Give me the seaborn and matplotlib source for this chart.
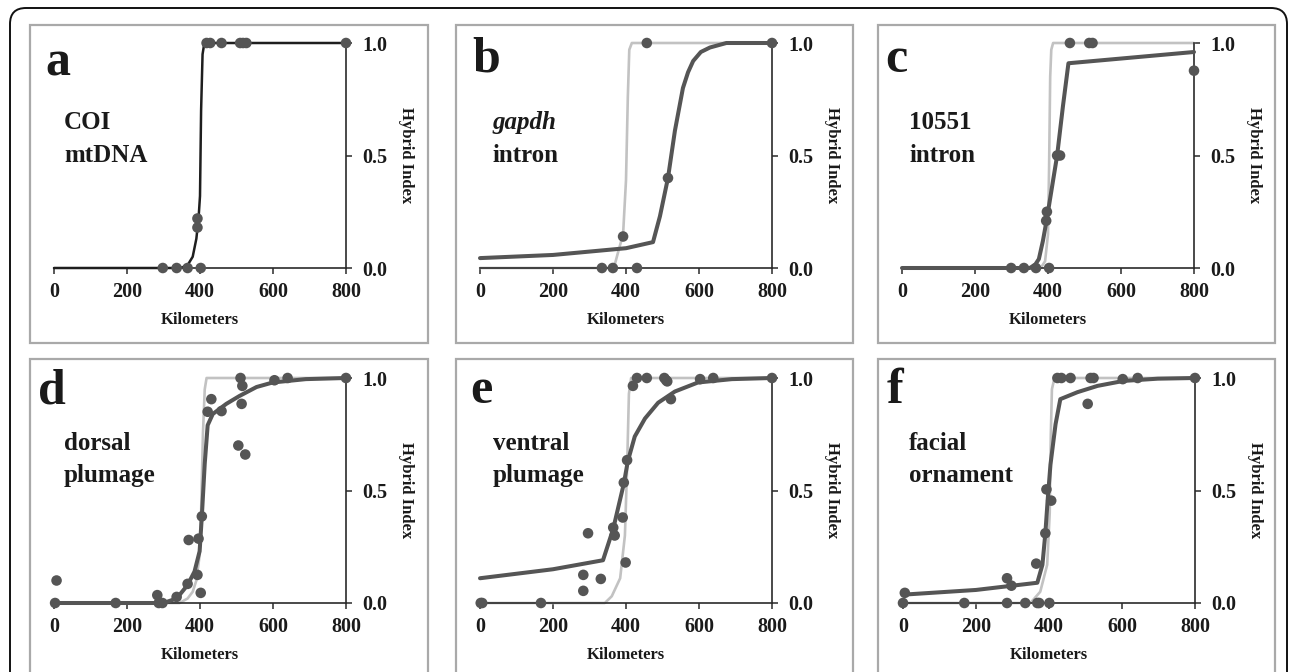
import matplotlib
matplotlib.use("Agg")
import matplotlib.pyplot as plt
from matplotlib.patches import Rectangle, FancyBboxPatch
import seaborn as sns

# ---------------- data ----------------
x_ticks = [0, 200, 400, 600, 800]
y_ticks = [0.0, 0.5, 1.0]
y_tick_labels = ["0.0", "0.5", "1.0"]
panel_letters = ["a", "b", "c", "d", "e", "f"]
panel_titles = [("COI", "mtDNA"), ("gapdh", "intron"), ("10551", "intron"),
                ("dorsal", "plumage"), ("ventral", "plumage"), ("facial", "ornament")]

# panel a: COI mtDNA
a_pts_km = [298, 336, 366, 402, 393, 393, 418, 428, 459, 510, 518, 527, 800]
a_pts_hi = [0, 0, 0, 0, 0.18, 0.22, 1, 1, 1, 1, 1, 1, 1]
a_fit_km = [0, 345, 365, 380, 390, 396, 400, 403, 407, 412, 800]
a_fit_hi = [0, 0, 0.01, 0.05, 0.13, 0.22, 0.32, 0.70, 0.95, 1.0, 1.0]

# panel b: gapdh intron
b_pts_km = [334, 364, 430, 392, 515, 457, 800]
b_pts_hi = [0, 0, 0, 0.14, 0.40, 1, 1]
b_fit_km = [0, 200, 400, 474, 493, 515, 534, 556, 570, 584, 605, 630, 675, 800]
b_fit_hi = [0.044, 0.058, 0.088, 0.115, 0.23, 0.40, 0.61, 0.80, 0.87, 0.92, 0.96, 0.98,
            1.0, 1.0]
b_ref_km = [0, 355, 370, 380, 392, 400, 405, 409, 416, 800]
b_ref_hi = [0, 0, 0.02, 0.08, 0.15, 0.39, 0.76, 0.97, 1.0, 1.0]

# panel c: 10551 intron
c_pts_km = [299, 334, 367, 403, 395, 397, 425, 433, 460, 513, 522, 800]
c_pts_hi = [0, 0, 0, 0, 0.21, 0.25, 0.5, 0.5, 1, 1, 1, 0.877]
c_fit_km = [0, 350, 365, 375, 386, 396, 406, 414, 425, 441, 456, 800]
c_fit_hi = [0, 0, 0.015, 0.04, 0.12, 0.21, 0.31, 0.39, 0.5, 0.72, 0.91, 0.96]
c_ref_km = [0, 380, 392, 400, 403, 406, 409, 414, 800]
c_ref_hi = [0, 0, 0.03, 0.15, 0.45, 0.85, 0.97, 1.0, 1.0]

# panel d: dorsal plumage
d_pts_km = [3, 7, 169, 283, 287, 297, 336, 366, 369, 393, 396, 402, 405, 421, 431,
            459, 505, 524, 511, 516, 514, 604, 640, 800]
d_pts_hi = [0, 0.10, 0, 0.035, 0, 0, 0.027, 0.085, 0.28, 0.125, 0.286, 0.045, 0.385,
            0.85, 0.906, 0.853, 0.70, 0.66, 1.0, 0.965, 0.885, 0.99, 1.0, 1.0]
d_fit_km = [0, 300, 336, 366, 385, 399, 405, 413, 421, 435, 472, 508, 555, 599, 690, 800]
d_fit_hi = [0, 0, 0.02, 0.08, 0.14, 0.23, 0.385, 0.62, 0.79, 0.84, 0.885, 0.92, 0.96,
            0.98, 0.995, 1.0]
d_ref_km = [0, 344, 366, 380, 390, 398, 403, 408, 413, 418, 800]
d_ref_hi = [0, 0, 0.02, 0.05, 0.10, 0.2, 0.4, 0.75, 0.95, 1.0, 1.0]

# panel e: ventral plumage
e_pts_km = [2, 6, 167, 283, 283, 296, 331, 365, 369, 391, 399, 394, 403, 419, 430,
            457, 505, 510, 513, 523, 603, 639, 800]
e_pts_hi = [0, 0, 0, 0.054, 0.125, 0.31, 0.107, 0.335, 0.30, 0.38, 0.18, 0.535, 0.635,
            0.965, 1.0, 1.0, 1.0, 0.99, 0.985, 0.906, 0.995, 1.0, 1.0]
e_fit_km = [0, 200, 337, 365, 394, 405, 424, 452, 488, 534, 597, 690, 800]
e_fit_hi = [0.11, 0.15, 0.19, 0.33, 0.53, 0.63, 0.74, 0.82, 0.89, 0.94, 0.98, 0.995, 1.0]
e_ref_km = [0, 342, 361, 384, 397, 403, 408, 414, 800]
e_ref_hi = [0, 0, 0.03, 0.11, 0.3, 0.6, 0.93, 1.0, 1.0]

# panel f: facial ornament
f_pts_km = [0, 5, 168, 285, 285, 297, 335, 365, 368, 373, 401, 390, 393, 406, 423,
            434, 459, 514, 522, 506, 602, 643, 800]
f_pts_hi = [0, 0.045, 0, 0, 0.11, 0.077, 0, 0.175, 0, 0, 0, 0.31, 0.505, 0.455, 1, 1,
            1, 1, 1, 0.885, 0.995, 1, 1]
f_fit_km = [0, 200, 368, 382, 390, 396, 404, 418, 431, 478, 533, 604, 698, 800]
f_fit_hi = [0.037, 0.058, 0.09, 0.17, 0.31, 0.45, 0.615, 0.795, 0.906, 0.937, 0.965,
            0.987, 0.997, 1.0]
f_ref_km = [0, 349, 376, 395, 402, 405, 408, 415, 800]
f_ref_hi = [0, 0, 0.05, 0.17, 0.4, 0.75, 0.95, 1.0, 1.0]

# ---------------- style ----------------
sns.set_style("white")
plt.rcParams["font.family"] = ["Liberation Serif", "DejaVu Serif"]
plt.rcParams["font.weight"] = "bold"

W, H = 1290, 672
fig = plt.figure(figsize=(W / 100, H / 100), dpi=100)

TXT = "#1a1a1a"
DARK = "#555555"
LIGHT = "#c2c2c2"
BOXC = "#a9a9a9"


def inch(px, py):
    return px / 100.0, (H - py) / 100.0


# outer rounded frame
ox, oy = inch(10, 720)
fig.patches.append(FancyBboxPatch((ox, oy), 12.77, (720 - 8) / 100.0,
                                  boxstyle="round,pad=0,rounding_size=0.16",
                                  transform=fig.dpi_scale_trans, fill=False,
                                  edgecolor="#111111", linewidth=1.4))

# panel boxes (left, top, right, bottom in pixels)
boxes = [(30, 25, 428, 343), (456, 25, 853, 343), (878, 25, 1275, 343),
         (30, 359, 428, 700), (456, 359, 853, 700), (878, 359, 1275, 700)]
for (l, t, r, b) in boxes:
    x0, y0 = inch(l, b)
    fig.patches.append(Rectangle((x0, y0), (r - l) / 100.0, (b - t) / 100.0,
                                 transform=fig.dpi_scale_trans, fill=False,
                                 edgecolor=BOXC, linewidth=1.6))

# axes origin (x=0 km, y=0) in pixels
origins = [(54, 268), (480, 268), (902, 268), (54, 603), (480, 603), (903, 603)]
AW, AH = 292, 225

panels = [
    (a_pts_km, a_pts_hi, a_fit_km, a_fit_hi, None, None),
    (b_pts_km, b_pts_hi, b_fit_km, b_fit_hi, b_ref_km, b_ref_hi),
    (c_pts_km, c_pts_hi, c_fit_km, c_fit_hi, c_ref_km, c_ref_hi),
    (d_pts_km, d_pts_hi, d_fit_km, d_fit_hi, d_ref_km, d_ref_hi),
    (e_pts_km, e_pts_hi, e_fit_km, e_fit_hi, e_ref_km, e_ref_hi),
    (f_pts_km, f_pts_hi, f_fit_km, f_fit_hi, f_ref_km, f_ref_hi),
]

letter_pos = [(45, 76), (472, 72), (885, 72), (38, 403), (470, 403), (887, 403)]
title_x = [64, 492, 909, 64, 493, 909]

for i, (pk, ph, fk, fh, rk, rh) in enumerate(panels):
    x0, y0 = origins[i]
    ax = fig.add_axes([x0 / W, 1 - y0 / H, AW / W, AH / H])
    ax.set_facecolor("none")

    if rk is not None:
        sns.lineplot(x=rk, y=rh, ax=ax, sort=False, estimator=None, color=LIGHT,
                     linewidth=1.9, zorder=2)
    if i == 0:
        sns.lineplot(x=fk, y=fh, ax=ax, sort=False, estimator=None, color="#1e1e1e",
                     linewidth=1.8, zorder=3)
    else:
        sns.lineplot(x=fk, y=fh, ax=ax, sort=False, estimator=None, color=DARK,
                     linewidth=2.9, zorder=3)
    for ln in ax.lines:
        ln.set_clip_on(False)
        ln.set_solid_joinstyle("round")
        ln.set_solid_capstyle("round")
    sns.scatterplot(x=pk, y=ph, ax=ax, s=58, color=DARK, edgecolor="none",
                    zorder=4, clip_on=False, legend=False)

    ax.set_xlim(0, 800)
    ax.set_ylim(0, 1)
    ax.set_xticks(x_ticks)
    ax.set_xticklabels([str(v) for v in x_ticks])
    ax.yaxis.tick_right()
    ax.set_yticks(y_ticks)
    ax.set_yticklabels(y_tick_labels)
    ax.set_xlabel("")
    ax.set_ylabel("")
    for side in ("top", "left"):
        ax.spines[side].set_visible(False)
    for side in ("bottom", "right"):
        ax.spines[side].set_visible(True)
        ax.spines[side].set_color("#2a2a2a")
        ax.spines[side].set_linewidth(1.2)
        ax.spines[side].set_zorder(2.5)
    ax.tick_params(axis="x", direction="out", length=4, width=1.1, color="#2a2a2a",
                   labelsize=14.5, labelcolor=TXT, pad=6, bottom=True)
    ax.tick_params(axis="y", direction="out", length=4, width=1.1, color="#2a2a2a",
                   labelsize=14.5, labelcolor=TXT, pad=8, right=True, left=False)
    for lbl in ax.get_xticklabels() + ax.get_yticklabels():
        lbl.set_fontweight("bold")

    # axis titles
    fig.text((x0 + AW / 2) / W, 1 - (y0 + 52) / H, "Kilometers", ha="center",
             va="center", fontsize=12, fontweight="bold", color=TXT)
    fig.text((x0 + AW + 60) / W, 1 - (y0 - AH / 2) / H, "Hybrid Index", ha="center",
             va="center", rotation=-90, fontsize=12, fontweight="bold", color=TXT)

    # panel letter
    lx, ly = letter_pos[i]
    fig.text(lx / W, 1 - ly / H, panel_letters[i], ha="left", va="baseline",
             fontsize=36, fontweight="bold", color=TXT)

    # gene / trait label
    top_line, bottom_line = panel_titles[i]
    base1 = 129 if i < 3 else 450
    base2 = 162 if i < 3 else 482
    style1 = "italic" if i == 1 else "normal"
    fig.text(title_x[i] / W, 1 - base1 / H, top_line, ha="left", va="baseline",
             fontsize=18, fontweight="bold", fontstyle=style1, color=TXT)
    fig.text(title_x[i] / W, 1 - base2 / H, bottom_line, ha="left", va="baseline",
             fontsize=18, fontweight="bold", color=TXT)

fig.savefig("out.png", dpi=100)
